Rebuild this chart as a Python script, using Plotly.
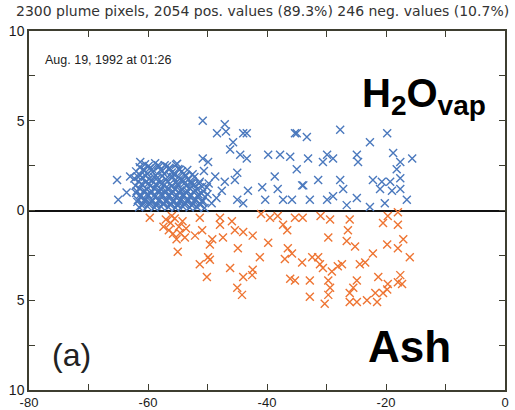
import plotly.graph_objects as go

# ---- data ----
pos_x = [
    # dense cluster
    -60.5, -58.8, -57.2,
    -61.4, -59.7, -58.1, -56.4, -54.9,
    -62.0, -60.6, -59.2, -57.6, -56.0, -54.3,
    -61.3, -60.1, -58.7, -57.3, -55.6, -53.8, -52.5,
    -62.3, -61.0, -59.8, -58.4, -57.0, -55.8, -54.6, -53.2,
    -61.6, -60.4, -59.3, -58.0, -56.7, -55.2, -54.0, -52.8, -51.3,
    -62.1, -60.9, -59.6, -58.6, -57.4, -56.1, -55.0, -53.6, -52.2, -50.9,
    -61.4, -60.2, -59.0, -57.8, -56.6, -55.5, -54.3, -53.0, -51.7,
    -62.0, -60.7, -59.5, -58.3, -57.1, -56.0, -54.8, -53.5, -52.4, -51.0,
    -61.2, -60.0, -58.8, -57.7, -56.5, -55.3, -54.1, -52.9, -51.6, -50.4,
    -61.7, -60.5, -59.3, -58.1, -56.9, -55.7, -54.5, -53.3, -52.1, -50.8,
    -60.9, -59.7, -58.6, -57.4, -56.2, -55.0, -53.8, -52.5, -51.3,
    -61.5, -60.1, -58.9, -57.8, -56.6, -55.4, -54.2, -53.0, -51.8, -50.5,
    # interleaved cluster fill
    -59.9, -58.3, -56.8, -55.3,
    -60.8, -59.3, -57.9, -56.3, -54.7, -53.4,
    -61.7, -60.4, -59.0, -57.6, -56.2, -54.9, -53.6, -52.2,
    -61.1, -59.9, -58.7, -57.5, -56.3, -55.1, -53.9, -52.7, -51.4,
    -61.9, -60.6, -59.4, -58.2, -57.0, -55.8, -54.6, -53.4, -52.0, -50.7,
    -61.3, -60.1, -58.9, -57.7, -56.5, -55.3, -54.1, -52.8, -51.5,
    -61.8, -60.6, -59.4, -58.2, -57.0, -55.8, -54.6, -53.4, -52.2, -50.9,
    -61.0, -59.8, -58.6, -57.4, -56.2, -55.0, -53.8, -52.6, -51.2,
    # stragglers left
    -65.2, -65.0, -63.6, -61.3, -55.1, -63.0,
    # scattered
    -50.8, -47.1, -48.4, -46.9, -43.4, -45.7, -46.2, -44.5, -43.4, -39.8,
    -37.8, -36.1, -35.0, -33.3, -35.0, -50.8, -48.7, -47.1, -45.4, -45.0,
    -47.6, -43.2, -40.8, -38.7, -38.2, -40.3, -37.3, -35.8, -34.1, -45.0,
    -44.0, -50.6, -50.1, -49.9, -50.0, -49.3, -48.5, -49.8,
    -27.7, -19.8, -22.7, -33.1, -29.9, -28.9, -30.6, -24.9, -24.7, -18.8,
    -17.6, -18.2, -17.6, -31.4, -27.7, -27.2, -33.9, -32.8, -28.9, -29.9,
    -24.9, -26.6, -22.2, -20.7, -19.3, -21.0, -19.0, -17.6, -20.2, -16.5,
    -22.7, -15.6, -35.3, -44.0,
]
pos_y = [
    2.58, 2.63, 2.52,
    2.41, 2.36, 2.45, 2.38, 2.31,
    2.18, 2.24, 2.15, 2.22, 2.12, 2.19,
    1.97, 2.03, 1.95, 2.05, 1.99, 1.93, 2.02,
    1.78, 1.84, 1.76, 1.82, 1.75, 1.86, 1.79, 1.73,
    1.62, 1.57, 1.64, 1.55, 1.61, 1.58, 1.66, 1.54, 1.60,
    1.38, 1.43, 1.36, 1.44, 1.39, 1.35, 1.42, 1.37, 1.45, 1.33,
    1.21, 1.17, 1.24, 1.15, 1.22, 1.19, 1.14, 1.25, 1.18,
    0.98, 1.03, 0.96, 1.04, 0.99, 0.95, 1.02, 0.97, 1.05, 0.94,
    0.78, 0.83, 0.76, 0.82, 0.79, 0.74, 0.84, 0.77, 0.81, 0.75,
    0.58, 0.63, 0.56, 0.62, 0.59, 0.55, 0.64, 0.57, 0.61, 0.54,
    0.38, 0.43, 0.36, 0.42, 0.39, 0.35, 0.44, 0.37, 0.41,
    0.18, 0.23, 0.16, 0.22, 0.19, 0.15, 0.24, 0.17, 0.21, 0.14,
    2.48, 2.52, 2.46, 2.55,
    2.28, 2.31, 2.26, 2.33, 2.27, 2.25,
    1.88, 1.92, 1.86, 1.91, 1.89, 1.85, 1.93, 1.87,
    1.48, 1.52, 1.47, 1.53, 1.49, 1.46, 1.51, 1.48, 1.50,
    1.08, 1.12, 1.07, 1.13, 1.09, 1.06, 1.11, 1.08, 1.10, 1.07,
    0.88, 0.92, 0.87, 0.93, 0.89, 0.86, 0.91, 0.88, 0.90,
    0.48, 0.52, 0.47, 0.53, 0.49, 0.46, 0.51, 0.48, 0.50, 0.47,
    0.28, 0.32, 0.27, 0.33, 0.29, 0.26, 0.31, 0.28, 0.30,
    1.7, 0.6, 1.0, 2.7, 2.6, 1.9,
    5.0, 4.8, 4.3, 4.4, 4.3, 3.8, 3.4, 3.1, 2.9, 3.1,
    3.1, 3.0, 4.3, 4.1, 2.3, 2.9, 1.9, 1.6, 1.7, 2.1,
    1.1, 1.1, 1.3, 1.9, 1.2, 0.6, 0.6, 0.6, 1.4, 0.6,
    0.4, 2.2, 1.3, 2.7, 0.9, 0.4, 0.7, 1.5,
    4.5, 4.3, 3.8, 2.9, 3.1, 2.9, 2.7, 3.1, 2.7, 3.2,
    2.7, 2.3, 1.8, 1.7, 1.7, 1.2, 1.4, 0.6, 0.8, 0.6,
    0.7, 0.3, 1.7, 1.6, 1.6, 1.2, 1.1, 1.2, 0.4, 0.6,
    0.2, 2.9, 4.3, 4.3,
]

neg_x = [
    -57.0, -56.2, -55.5, -54.8, -56.5, -55.8, -54.2, -53.6, -55.2, -57.4, -54.6, -56.0,
    -59.7, -51.3, -50.9, -47.9, -47.9, -45.9, -53.8, -52.1, -49.2, -49.6, -47.4, -45.4,
    -55.0, -49.9, -49.6, -44.9, -51.3, -46.2, -50.1, -44.0, -45.0, -44.2,
    -39.5, -38.2, -35.3, -34.0, -29.4, -26.1, -26.4, -44.0, -42.4, -37.3, -36.6, -39.8,
    -29.7, -26.6, -25.2, -41.2, -36.5, -35.8, -37.0, -34.1, -32.4, -31.4, -31.1, -30.6,
    -29.1, -28.1, -24.4, -23.5, -22.2, -21.3, -42.4, -42.5, -36.1, -35.3, -32.8, -29.7,
    -29.4, -24.9, -25.5, -26.1, -29.7, -32.8, -30.3, -26.1, -24.9, -21.8, -21.5,
    -20.5, -19.7, -18.0, -18.0, -19.8, -17.1, -18.0, -16.0, -17.6, -18.0, -17.3,
    -19.7, -19.8, -20.5, -27.4, -23.2, -31.0, -41.0,
]
neg_y = [
    -0.5, -0.7, -0.45, -0.9, -1.1, -1.3, -0.6, -1.0, -1.6, -0.9, -1.25, -0.3,
    -0.4, -0.4, -1.1, -0.4, -0.8, -0.6, -1.5, -1.4, -1.6, -1.9, -1.5, -1.1,
    -2.3, -2.6, -2.75, -2.1, -3.0, -3.2, -3.7, -3.7, -4.3, -4.7,
    -0.4, -0.3, -0.4, -0.4, -0.5, -0.5, -1.1, -1.2, -1.4, -0.8, -1.1, -1.8,
    -1.5, -1.7, -2.0, -2.6, -2.1, -2.4, -2.7, -2.9, -2.6, -2.6, -3.0, -3.2,
    -3.4, -3.1, -3.0, -2.9, -2.4, -3.7, -3.3, -3.6, -3.8, -3.9, -3.9, -3.9,
    -4.3, -3.9, -4.3, -4.6, -4.7, -4.8, -5.2, -5.1, -5.1, -4.6, -5.1,
    -0.7, -0.3, -0.8, -0.1, -1.9, -1.6, -2.1, -2.6, -3.6, -4.0, -4.1,
    -4.1, -4.4, -4.6, -3.0, -5.0, -0.3, -0.2,
]

x_tickvals = [-80, -70, -60, -50, -40, -30, -20, -10, 0]
x_ticktext = ["-80", "", "-60", "", "-40", "", "-20", "", "0"]
y_tickvals = [-10, -7.5, -5, -2.5, 0, 2.5, 5, 7.5, 10]
y_ticktext = ["10", "", "5", "", "0", "", "5", "", "10"]

title_text = "2300 plume pixels, 2054 pos. values (89.3%) 246 neg. values (10.7%)"
date_text = "Aug. 19, 1992 at 01:26"

blue = "#4a78bd"
orange = "#ee7432"
frame = "#3e3e30"
font_family = "Liberation Sans, Arial, sans-serif"

fig = go.Figure()
fig.add_trace(go.Scatter(
    x=pos_x, y=pos_y, mode="markers",
    marker=dict(symbol="x-thin", size=8, color=blue, line=dict(width=1.4, color=blue)),
    hoverinfo="skip"))
fig.add_trace(go.Scatter(
    x=neg_x, y=neg_y, mode="markers",
    marker=dict(symbol="x-thin", size=8, color=orange, line=dict(width=1.4, color=orange)),
    hoverinfo="skip"))

fig.update_layout(
    template="none",
    width=515, height=410,
    margin=dict(l=29, r=10, t=31, b=20, autoexpand=False),
    paper_bgcolor="white", plot_bgcolor="white",
    showlegend=False,
    font=dict(family=font_family, color="#1a1a1a"),
    xaxis=dict(range=[-80, 0], tickvals=x_tickvals, ticktext=x_ticktext, automargin=False,
               ticks="inside", ticklen=6, tickcolor=frame, tickwidth=1.3,
               showline=True, linecolor=frame, linewidth=1.5, mirror="ticks",
               showgrid=False, zeroline=False, tickfont=dict(size=13)),
    yaxis=dict(range=[-10, 10], tickvals=y_tickvals, ticktext=y_ticktext, automargin=False,
               ticks="inside", ticklen=6, tickcolor=frame, tickwidth=1.3,
               showline=True, linecolor=frame, linewidth=1.5, mirror="ticks",
               showgrid=False, zeroline=True, zerolinecolor="#111111", zerolinewidth=1.5,
               tickfont=dict(size=14)),
    annotations=[
        dict(text=title_text, xref="paper", yref="paper", x=-0.032, y=1.0, yshift=20,
             xanchor="left", yanchor="middle", showarrow=False,
             font=dict(size=14, color="#333333", family="DejaVu Sans, sans-serif")),
        dict(text=date_text, xref="paper", yref="paper", x=0.03, y=0.92,
             xanchor="left", yanchor="middle", showarrow=False,
             font=dict(size=12.5, color="#222222")),
        dict(text="<b>H<sub>2</sub>O<sub>vap</sub></b>", xref="paper", yref="paper",
             x=0.83, y=0.82, xanchor="center", yanchor="middle", showarrow=False,
             font=dict(size=40, color="black")),
        dict(text="<b>Ash</b>", xref="paper", yref="paper",
             x=0.80, y=0.12, xanchor="center", yanchor="middle", showarrow=False,
             font=dict(size=44, color="black")),
        dict(text="(a)", xref="paper", yref="paper",
             x=0.09, y=0.097, xanchor="center", yanchor="middle", showarrow=False,
             font=dict(size=32, color="#222222")),
    ],
)

fig.write_html("out.html")
